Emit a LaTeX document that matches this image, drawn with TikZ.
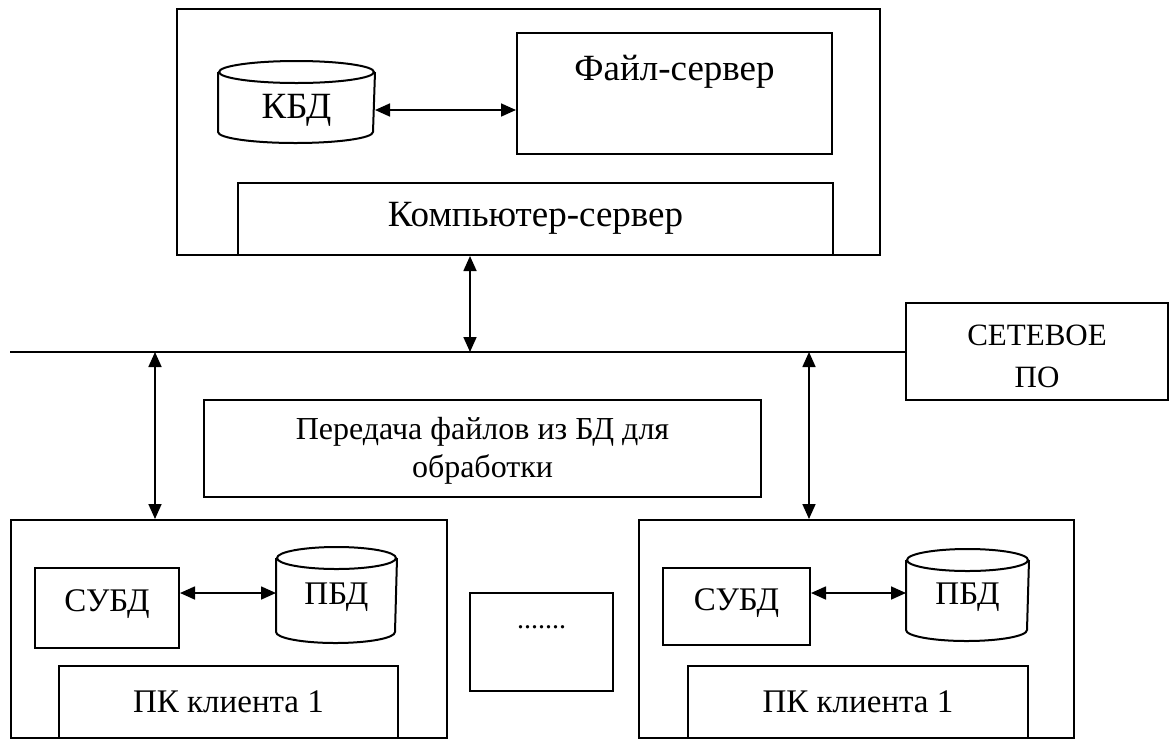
\documentclass[tikz,border=0pt]{standalone}
\usepackage{fontspec}
\setmainfont{Liberation Serif}
\usetikzlibrary{arrows.meta}
\begin{document}
\begin{tikzpicture}[x=1pt,y=-1pt,
  line width=2pt,
  box/.style={draw,rectangle,inner sep=0pt},
  dbnode/.style={rectangle,inner sep=0pt},
  big/.style={inner sep=0pt,font=\fontsize{37}{40}\selectfont},
  mid/.style={inner sep=0pt,font=\fontsize{33}{36}\selectfont},
  small/.style={inner sep=0pt,font=\fontsize{32}{38}\selectfont,align=center},
  biarrow/.style={{Triangle[length=15pt,width=13pt]}-{Triangle[length=15pt,width=13pt]},line width=1.7pt}
]
\useasboundingbox (0,0) rectangle (1176,740);
\newcommand\cylpath[2]{% node name, ellipse half-height
  \draw ([yshift=-#2]#1.north west) -- ([yshift=#2]#1.south west)
     arc[start angle=180,end angle=360,x radius=0.5*\pgfkeysvalueof{/pgf/minimum width},y radius=#2]
     -- ([yshift=-#2]#1.north east);
  \draw ([yshift=-#2]#1.north) ellipse[x radius=0.5*\pgfkeysvalueof{/pgf/minimum width},y radius=#2];}

% server
\node[box,minimum width=703pt,minimum height=246pt] (srv) at (528.5,132) {};
\node[dbnode,minimum width=155pt,minimum height=80pt] (kbd) at (296.5,102) {};
\pgfkeys{/pgf/minimum width=155pt}
\cylpath{kbd}{11pt}
\node[big] (kbdt) at (296.5,110) {КБД};
\node[box,minimum width=315pt,minimum height=121pt] (fs) at (674.5,93.5) {};
\node[big] (fst) at (674.5,72) {Файл-сервер};
\node[box,minimum width=595pt,minimum height=72pt] (comp) at (535.5,219) {};
\node[big] (compt) at (535.5,218) {Компьютер-сервер};
\draw[biarrow] (kbd.east |- 0,110) -- (fs.west |- 0,110);

% network
\node[box,minimum width=262pt,minimum height=97pt] (net) at (1037,351.5) {};
\node[small,font=\fontsize{31}{42}\selectfont] (nett) at (1037,356) {СЕТЕВОЕ\\ПО};
\coordinate (lineL) at (10,352);
\draw (lineL) -- (net.west |- lineL);
\coordinate (busS) at (470,352);
\coordinate (busL) at (155,352);
\coordinate (busR) at (809,352);
\draw[biarrow] (comp.south -| busS) -- (busS);

% transfer
\node[box,minimum width=557pt,minimum height=97pt] (tr) at (482.5,448.5) {};
\node[small] (trt) at (482.5,451) {Передача файлов из БД для\\обработки};

% left client
\node[box,minimum width=436pt,minimum height=218pt] (cl1) at (229,629) {};
\node[box,minimum width=144pt,minimum height=80pt] (subd1) at (107,608) {};
\node[mid] (subd1t) at (107,604) {СУБД};
\node[dbnode,minimum width=119pt,minimum height=94pt] (pbd1) at (336.5,595) {};
\pgfkeys{/pgf/minimum width=119pt}
\cylpath{pbd1}{11pt}
\node[mid] (pbd1t) at (336.5,597) {ПБД};
\node[box,minimum width=339pt,minimum height=72pt] (pk1) at (228.5,702) {};
\node[mid] (pk1t) at (228.5,702) {ПК клиента 1};
\draw[biarrow] (subd1.east |- 0,593) -- (pbd1.west |- 0,593);
\draw[biarrow] (busL) -- (cl1.north -| busL);

% dots
\node[box,minimum width=143pt,minimum height=98pt] (dots) at (541.5,642) {};
\node[small,font=\fontsize{28}{30}\selectfont] (dotst) at (541.5,627) {.......};

% right client
\node[box,minimum width=435pt,minimum height=218pt] (cl2) at (856.5,629) {};
\node[box,minimum width=147pt,minimum height=77pt] (subd2) at (736.5,606.5) {};
\node[mid] (subd2t) at (736.5,603) {СУБД};
\node[dbnode,minimum width=121pt,minimum height=90pt] (pbd2) at (967.5,595) {};
\pgfkeys{/pgf/minimum width=121pt}
\cylpath{pbd2}{11pt}
\node[mid] (pbd2t) at (967.5,597) {ПБД};
\node[box,minimum width=340pt,minimum height=72pt] (pk2) at (858,702) {};
\node[mid] (pk2t) at (858,702) {ПК клиента 1};
\draw[biarrow] (subd2.east |- 0,593) -- (pbd2.west |- 0,593);
\draw[biarrow] (busR) -- (cl2.north -| busR);
\end{tikzpicture}
\end{document}
